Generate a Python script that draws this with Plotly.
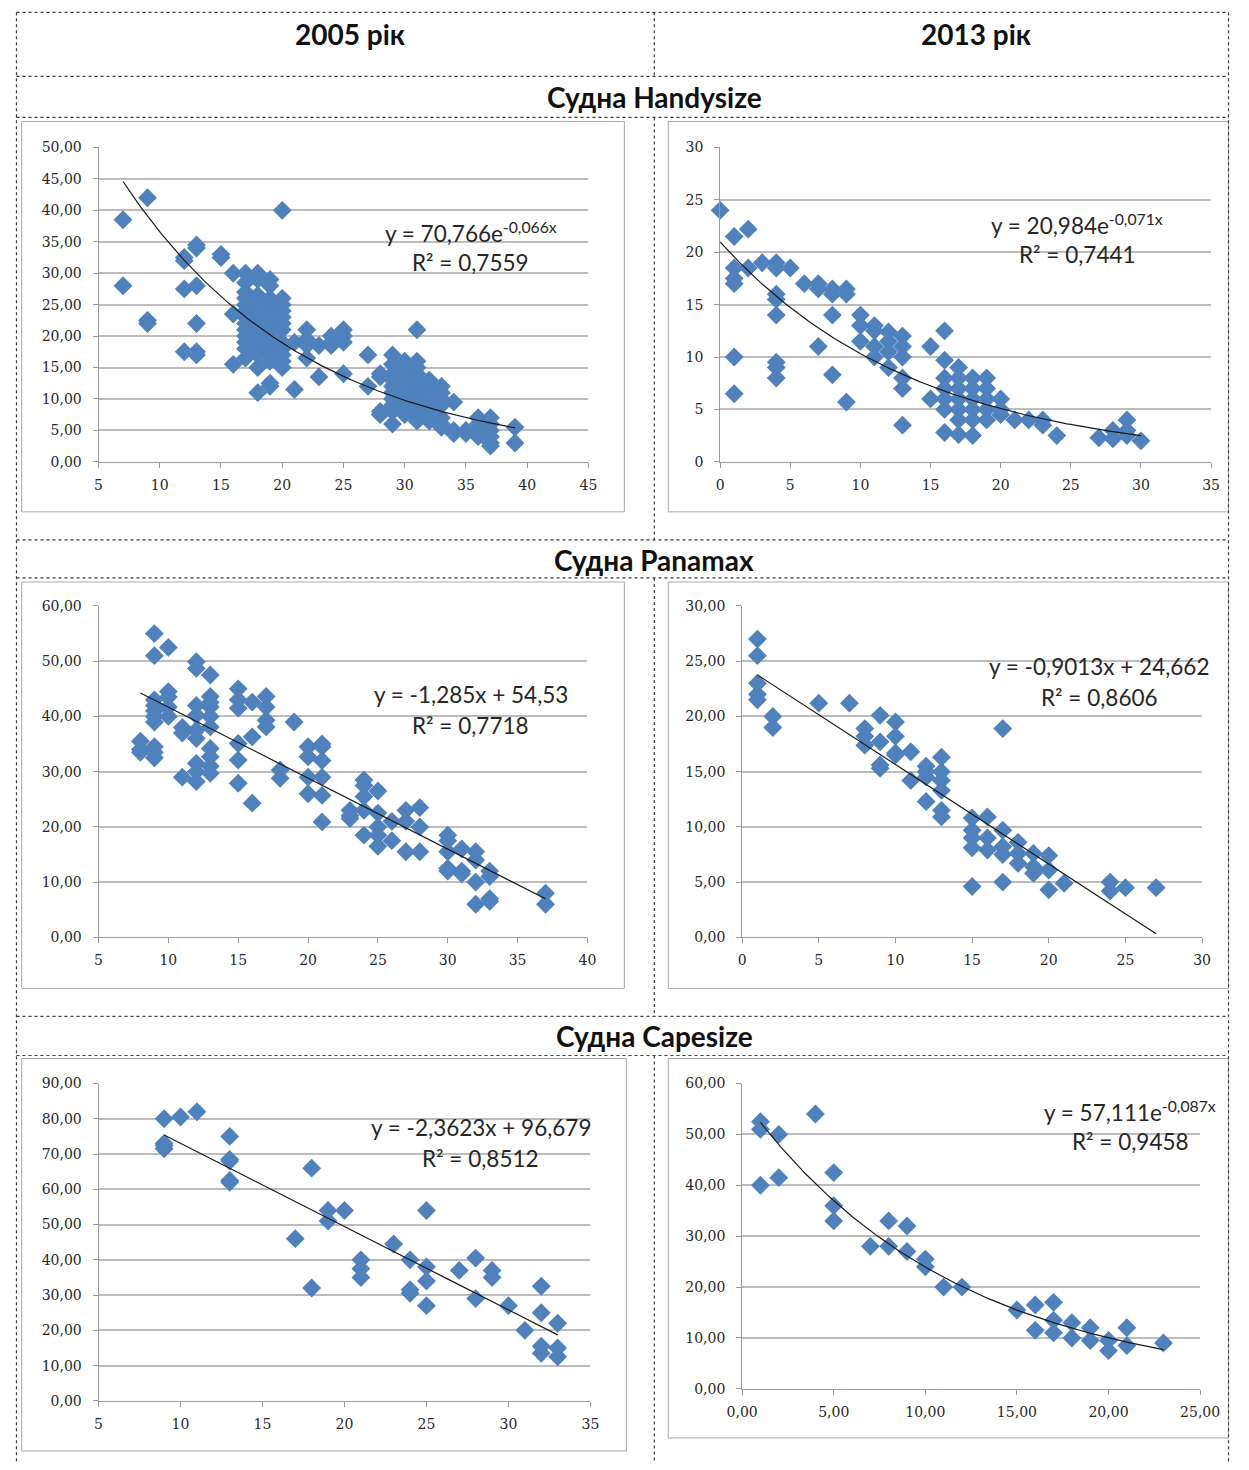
import numpy as np
import plotly.graph_objects as go

W, H = 1249, 1470

# ---------------- data ----------------
# Handysize, 2005
hs05_x = [7, 7, 9, 9, 9, 12, 12, 12, 12, 13, 13, 13, 13, 13, 13, 15, 15, 16, 16, 16,
          17, 17, 17, 17, 17, 17, 17, 17, 17, 17, 17, 17, 17,
          18, 18, 18, 18, 18, 18, 18, 18, 18, 18, 18, 18, 18, 18, 18,
          19, 19, 19, 19, 19, 19, 19, 19, 19, 19, 19, 19, 19, 19, 19,
          20, 20, 20, 20, 20, 20, 20, 20, 20, 20, 20, 20,
          21, 21, 22, 22, 22, 22, 23, 23, 24, 24, 24, 25, 25, 25, 25, 27, 27,
          28, 28, 28, 28,
          29, 29, 29, 29, 29, 29, 29, 29, 29, 29,
          30, 30, 30, 30, 30, 30, 30, 30, 30, 30,
          31, 31, 31, 31, 31, 31, 31, 31, 31, 31, 31, 31,
          32, 32, 32, 32, 32, 32, 32, 32,
          33, 33, 33, 33, 33, 33, 33,
          34, 34, 34, 35, 35, 36, 36, 36, 36, 36, 37, 37, 37, 37, 37, 37, 39, 39]
hs05_y = [38.5, 28, 42, 22.5, 22, 32.5, 32, 27.5, 17.5, 34.5, 34, 28, 22, 17.5, 17, 33, 32.5, 30, 23.5, 15.5,
          30, 28.5, 27, 26, 25, 24, 23, 22, 21, 20, 19, 18, 16.5,
          30, 29, 26.5, 26, 25, 24, 23, 22, 21, 20, 19, 18, 17, 15, 11,
          29, 28, 26, 25, 24, 23, 22, 21, 20, 19, 18, 17, 16, 12.5, 12,
          40, 26, 25, 24, 23, 22, 21, 19, 18, 17, 16, 15,
          19, 11.5, 21, 19.5, 18.5, 16.5, 18.5, 13.5, 20, 19, 18.5, 21, 20, 19, 14, 17, 12,
          14, 13.5, 8, 7.5,
          17, 15.5, 14, 13, 12, 11, 10, 9, 8, 6,
          16, 15, 14, 13, 12, 11, 10, 9, 8, 7.5,
          21, 16, 15, 14, 13, 12, 11, 10, 9, 8, 7, 6.5,
          13, 12, 11, 10, 9, 8, 7, 6.5,
          12, 11, 10, 9, 7, 6, 5.5,
          9.5, 5, 4.5, 5, 4.5, 7, 6, 5, 4.5, 4, 7, 6, 5, 4, 3, 2.5, 5.5, 3]

# Handysize, 2013
hs13_x = [0, 1, 1, 1, 1, 1, 1, 2, 2, 3, 4, 4, 4, 4, 4, 4, 4, 4, 5, 6, 7, 7, 7,
          8, 8, 8, 8, 9, 9, 9, 10, 10, 10, 11, 11, 11, 11, 12, 12, 12, 12,
          13, 13, 13, 13, 13, 13, 15, 15,
          16, 16, 16, 16, 16, 16, 16, 17, 17, 17, 17, 17, 17, 17,
          18, 18, 18, 18, 18, 18, 19, 19, 19, 19, 19, 20, 20, 20,
          21, 22, 23, 23, 24, 27, 28, 28, 29, 29, 29, 30]
hs13_y = [24, 21.5, 18.5, 17.5, 17, 10, 6.5, 22.2, 18.5, 19, 19, 18.5, 16, 15.5, 14, 9.5, 9, 8, 18.5, 17, 17, 16.5, 11,
          16.5, 16, 14, 8.3, 16.5, 16, 5.7, 14, 13, 11.5, 13, 12.5, 11, 10, 12.4, 11.5, 10.5, 9,
          12, 11, 10, 8, 7, 3.5, 11, 6,
          12.5, 9.7, 8, 7, 6, 5, 2.8, 9, 8, 7, 6, 5, 4, 2.6,
          8, 7, 6, 5, 4, 2.5, 8, 7, 6, 5, 4, 6, 5, 4.5,
          4, 4, 4, 3.5, 2.5, 2.3, 2.2, 3, 4, 3, 2.5, 2]

# Panamax, 2005
pm05_x = [8, 8, 8, 9, 9, 9, 9, 9, 9, 9, 9, 9, 9, 10, 10, 10, 10, 10, 11, 11, 11,
          12, 12, 12, 12, 12, 12, 12, 12, 12, 13, 13, 13, 13, 13, 13, 13, 13, 13, 13,
          15, 15, 15, 15, 15, 15, 16, 16, 16, 17, 17, 17, 17, 18, 18, 19,
          20, 20, 20, 20, 21, 21, 21, 21, 21, 21, 23, 23, 23,
          24, 24, 24, 24, 24, 25, 25, 25, 25, 25, 26, 26, 27, 27, 27, 28, 28, 28,
          30, 30, 30, 30, 30, 31, 31, 31, 32, 32, 32, 32, 33, 33, 33, 33, 37, 37]
pm05_y = [35.5, 34, 33.5, 55, 51, 43, 42, 41, 40, 39, 34.5, 33.5, 32.5, 52.5, 44.5, 43.5, 41.7, 40, 38, 37, 29,
          49.9, 48.7, 42, 40.2, 37.5, 36, 31.5, 30, 28.2, 47.5, 43.6, 42.5, 41.7, 40, 38.1, 34.2, 32.7, 31, 29.7,
          45, 43, 41.5, 35.1, 32.1, 27.9, 42.6, 36.3, 24.3, 43.6, 41.7, 39.3, 38.1, 30.3, 28.8, 39,
          34.5, 32.7, 29, 26, 35, 34.5, 32, 29, 25.7, 20.9, 23, 22, 21.5,
          28.5, 27.5, 25.5, 23, 18.5, 26.5, 22.5, 20, 18.5, 16.5, 21, 17.5, 23, 21, 15.5, 23.5, 20, 15.5,
          18.5, 17.5, 15.5, 12.5, 12, 16, 12, 11.5, 15.5, 14, 10, 6, 12, 11, 7, 6.5, 8, 6]

# Panamax, 2013
pm13_x = [1, 1, 1, 1, 1, 2, 2, 5, 7, 8, 8, 8, 9, 9, 9, 9, 10, 10, 10, 10, 11, 11,
          12, 12, 12, 12, 13, 13, 13, 13, 13, 13, 15, 15, 15, 15, 15, 16, 16, 16,
          17, 17, 17, 17, 17, 18, 18, 18, 19, 19, 19, 20, 20, 20, 21, 24, 24, 25, 27]
pm13_y = [27, 25.5, 23, 22, 21.5, 20, 19, 21.2, 21.2, 18.9, 18.2, 17.4, 20.1, 17.7, 15.6, 15.3, 19.5, 18.2, 16.7, 16.5, 16.8, 14.2,
          15.5, 15, 14.5, 12.3, 16.3, 15, 14.2, 13.3, 11.5, 10.9, 10.8, 9.7, 9, 8.1, 4.6, 10.9, 9, 7.9,
          18.9, 9.7, 8.2, 7.5, 5, 8.6, 7.6, 6.7, 7.6, 6.4, 5.8, 7.4, 6.1, 4.3, 4.9, 5, 4.2, 4.5, 4.5]

# Capesize, 2005
cs05_x = [9, 9, 9, 9, 10, 11, 13, 13, 13, 13, 13, 17, 18, 18, 19, 19, 20, 21, 21, 21, 23,
          24, 24, 24, 25, 25, 25, 25, 27, 28, 28, 29, 29, 30, 31, 32, 32, 32, 32, 33, 33, 33]
cs05_y = [80, 73, 72.5, 71.5, 80.5, 82, 75, 68.5, 68, 62.5, 62, 46, 66, 32, 54, 51, 54, 40, 37.5, 35, 44.5,
          40, 31.5, 30.5, 54, 38, 34, 27, 37, 40.5, 29, 37, 35, 27, 20, 32.5, 25, 15.5, 13.5, 22, 15, 12.5]

# Capesize, 2013
cs13_x = [1, 1, 1, 2, 2, 4, 5, 5, 5, 7, 8, 8, 9, 9, 10, 10, 11, 12, 15, 16, 16,
          17, 17, 17, 18, 18, 19, 19, 20, 20, 21, 21, 23]
cs13_y = [52.5, 51, 40, 50, 41.5, 54, 42.5, 36, 33, 28, 33, 28, 32, 27, 25.5, 24, 20, 20, 15.5, 16.5, 11.5,
          17, 13.5, 11, 13, 10, 12, 9.5, 9.5, 7.5, 12, 8.5, 9]

# trend models: (kind, a, b) -> exp: a*e^(b x), lin: a*x + b
hs05_fit = ("exp", 70.766, -0.066)
hs13_fit = ("exp", 20.984, -0.071)
pm05_fit = ("lin", -1.285, 54.53)
pm13_fit = ("lin", -0.9013, 24.662)
cs05_fit = ("lin", -2.3623, 96.679)
cs13_fit = ("exp", 57.111, -0.087)

hs05_eq = ["y = 70,766e<sup>-0,066x</sup>", "R² = 0,7559"]
hs13_eq = ["y = 20,984e<sup>-0,071x</sup>", "R² = 0,7441"]
pm05_eq = ["y = -1,285x + 54,53", "R² = 0,7718"]
pm13_eq = ["y = -0,9013x + 24,662", "R² = 0,8606"]
cs05_eq = ["y = -2,3623x + 96,679", "R² = 0,8512"]
cs13_eq = ["y = 57,111e<sup>-0,087x</sup>", "R² = 0,9458"]

# axis ticks
hs05_xt = [5, 10, 15, 20, 25, 30, 35, 40, 45]
hs05_yt = [0, 5, 10, 15, 20, 25, 30, 35, 40, 45, 50]
hs13_xt = [0, 5, 10, 15, 20, 25, 30, 35]
hs13_yt = [0, 5, 10, 15, 20, 25, 30]
pm05_xt = [5, 10, 15, 20, 25, 30, 35, 40]
pm05_yt = [0, 10, 20, 30, 40, 50, 60]
pm13_xt = [0, 5, 10, 15, 20, 25, 30]
pm13_yt = [0, 5, 10, 15, 20, 25, 30]
cs05_xt = [5, 10, 15, 20, 25, 30, 35]
cs05_yt = [0, 10, 20, 30, 40, 50, 60, 70, 80, 90]
cs13_xt = [0, 5, 10, 15, 20, 25]
cs13_yt = [0, 10, 20, 30, 40, 50, 60]

col_titles = ["2005 рік", "2013 рік"]
row_titles = ["Судна Handysize", "Судна Panamax", "Судна Capesize"]


def dec2(v):
    return f"{v:.2f}".replace(".", ",")


def plain(v):
    return str(v)


# ---------------- layout geometry ----------------
# Positions below are given on the page grid; the page frame is slightly
# inset, so each position is mapped through this offset/scale first.
OX, SX = 14.3, 0.9733
OY, SY = 8.7, 0.988


def px(x):
    v = (x - OX) / SX
    return min(max(v, 0.5), W - 0.5) / W


def py(y):
    v = (y - OY) / SY
    return 1 - min(max(v, 0.5), H - 0.5) / H


panels = [
    # data x, data y, fit, eq, xticks, xfmt, yticks, yfmt, plot box (l, r, top, bottom), chart box, eq centre
    (hs05_x, hs05_y, hs05_fit, hs05_eq, hs05_xt, plain, hs05_yt, dec2, (97, 588, 148, 462), (20, 624, 122, 512), (470, 232)),
    (hs13_x, hs13_y, hs13_fit, hs13_eq, hs13_xt, plain, hs13_yt, plain, (720, 1212, 148, 462), (668, 1246, 122, 512), (1078, 224)),
    (pm05_x, pm05_y, pm05_fit, pm05_eq, pm05_xt, plain, pm05_yt, dec2, (97, 587, 606, 937), (20, 624, 582, 988), (470, 694)),
    (pm13_x, pm13_y, pm13_fit, pm13_eq, pm13_xt, plain, pm13_yt, dec2, (742, 1203, 606, 937), (668, 1240, 582, 988), (1100, 666)),
    (cs05_x, cs05_y, cs05_fit, cs05_eq, cs05_xt, plain, cs05_yt, dec2, (97, 590, 1083, 1400), (20, 626, 1058, 1450), (480, 1127)),
    (cs13_x, cs13_y, cs13_fit, cs13_eq, cs13_xt, dec2, cs13_yt, dec2, (742, 1201, 1083, 1388), (668, 1246, 1058, 1437), (1131, 1110)),
]

MARKER = "#4F81BD"
GRID = "#BCBCBC"
AXIS = "#9A9A9A"
TICKFONT = dict(family="DejaVu Serif", size=14, color="#262626")
EQFONT = dict(family="Lato", size=22.5, color="#262626")

fig = go.Figure()
shapes = []
annotations = []

for i, (xs, ys, fit, eq, xt, xfmt, yt, yfmt, pbox, cbox, eqc) in enumerate(panels, start=1):
    sx = "" if i == 1 else str(i)
    l, r, t, b = pbox
    # chart frame
    shapes.append(dict(type="rect", xref="paper", yref="paper",
                       x0=px(cbox[0]), x1=px(cbox[1]), y0=py(cbox[3]), y1=py(cbox[2]),
                       line=dict(color="#A8A8A8", width=1), layer="below"))
    fig.add_trace(go.Scatter(
        x=xs, y=ys, mode="markers", xaxis="x" + sx, yaxis="y" + sx,
        marker=dict(symbol="diamond", size=14.5, color=MARKER, line=dict(width=0)),
        cliponaxis=False, showlegend=False, hoverinfo="x+y"))
    kind, a, c = fit
    tx = np.linspace(min(xs), max(xs), 200)
    ty = a * np.exp(c * tx) if kind == "exp" else a * tx + c
    fig.add_trace(go.Scatter(
        x=tx, y=ty, mode="lines", xaxis="x" + sx, yaxis="y" + sx,
        line=dict(color="#1a1a1a", width=1.2), showlegend=False, hoverinfo="skip"))
    fig.layout["xaxis" + sx] = dict(
        domain=[px(l), px(r)], anchor="y" + sx, range=[xt[0], xt[-1]],
        tickvals=xt, ticktext=[xfmt(v) for v in xt], tickfont=TICKFONT,
        showgrid=False, zeroline=False, showline=True, linecolor=AXIS, linewidth=1,
        ticks="outside", ticklen=5, tickcolor=AXIS, ticklabelstandoff=5, fixedrange=True)
    fig.layout["yaxis" + sx] = dict(
        domain=[py(b), py(t)], anchor="x" + sx, range=[yt[0], yt[-1]],
        tickvals=yt, ticktext=[yfmt(v) for v in yt], tickfont=TICKFONT,
        showgrid=True, gridcolor=GRID, gridwidth=1.6, zeroline=False,
        showline=True, linecolor=AXIS, linewidth=1,
        ticks="outside", ticklen=5, tickcolor=AXIS, ticklabelstandoff=8, fixedrange=True)
    annotations.append(dict(xref="paper", yref="paper", x=px(eqc[0]), y=py(eqc[1]),
                            text=eq[0], showarrow=False, font=EQFONT, xanchor="center", yanchor="middle"))
    annotations.append(dict(xref="paper", yref="paper", x=px(eqc[0]), y=py(eqc[1] + 31),
                            text=eq[1], showarrow=False, font=EQFONT, xanchor="center", yanchor="middle"))

# table rules
RULE = dict(color="#3a3a3a", width=1.2, dash="dot")


def hline(y, x0=10, x1=1248):
    shapes.append(dict(type="line", xref="paper", yref="paper", x0=px(x0), x1=px(x1),
                       y0=py(y), y1=py(y), line=RULE))


def vline(x, y0, y1):
    shapes.append(dict(type="line", xref="paper", yref="paper", x0=px(x), x1=px(x),
                       y0=py(y0), y1=py(y1), line=RULE))


for yy in [13, 77, 118, 540, 578, 1016, 1055]:
    hline(yy)
vline(10, 13, 1470)
vline(1248, 13, 1470)
vline(654, 13, 77)
vline(654, 118, 540)
vline(654, 578, 1016)
vline(654, 1055, 1470)

HEADFONT = dict(family="Lato", size=28, color="#111111")
for txt, cx in zip(col_titles, [349, 976]):
    annotations.append(dict(xref="paper", yref="paper", x=px(cx), y=py(35), text="<b>" + txt + "</b>",
                            showarrow=False, font=HEADFONT, xanchor="center", yanchor="middle"))
for txt, cy in zip(row_titles, [98, 560, 1036]):
    annotations.append(dict(xref="paper", yref="paper", x=px(654), y=py(cy), text="<b>" + txt + "</b>",
                            showarrow=False, font=HEADFONT, xanchor="center", yanchor="middle"))

fig.update_layout(
    width=W, height=H, margin=dict(l=0, r=0, t=0, b=0),
    paper_bgcolor="white", plot_bgcolor="white",
    shapes=shapes, annotations=annotations, showlegend=False)

fig.write_html("out.html", config={"displayModeBar": False})
